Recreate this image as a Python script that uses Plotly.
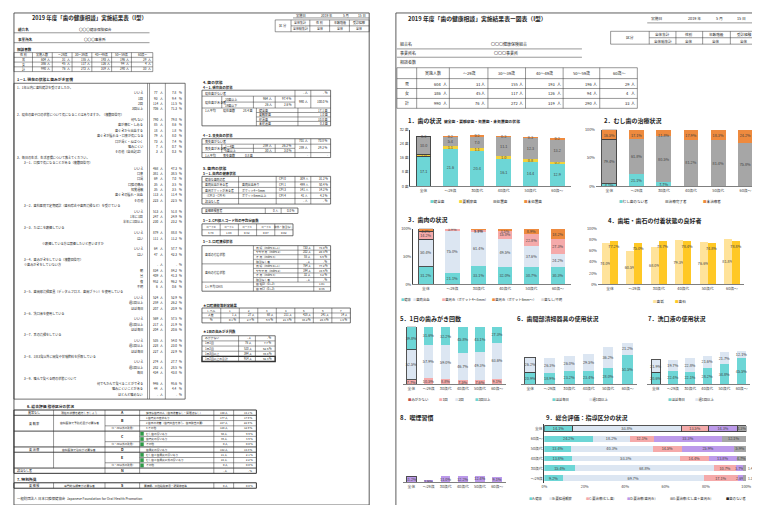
import plotly.graph_objects as go

W, H = 760, 505
JP = "Noto Sans CJK JP"
INK = "#262626"

# ---------------- data ----------------
CATS = ["全体", "～29歳", "30歳代", "40歳代", "50歳代", "60歳～"]

HEAD_COLS = ["実施人数", "～29歳", "30～39歳", "40～49歳", "50～59歳", "60歳～"]
SEX_ROWS = ["男", "女", "計"]
COUNT_M = [604, 31, 155, 193, 196, 29]
COUNT_F = [386, 45, 117, 126, 94, 4]
COUNT_T = [990, 76, 272, 319, 290, 33]

# 1. 歯の状況 (本数)
C1_SOUND = [17.1, 21.6, 20.4, 16.1, 14.4, 12.9]
C1_OBS = [1.0, 1.1, 1.1, 1.0, 0.8, 0.7]
C1_FILLED = [10.0, 5.4, 7.0, 11.1, 12.3, 13.2]
C1_DECAY = [0.3, 0.2, 0.2, 0.3, 0.3, 0.2]
# 2. むし歯の治療状況 (%)
C2_NONE = [4.1, 21.1, 7.7, 0.9, 0.3, 0.0]
C2_DONE = [79.4, 61.8, 80.5, 81.2, 81.4, 75.8]
C2_UNTREATED = [16.5, 17.1, 11.8, 17.9, 18.3, 24.2]
# 3. 歯肉の状況 (%)
C3_HEALTHY = [31.2, 21.1, 33.1, 32.0, 30.7, 30.3]
C3_BLEED = [50.4, 75.0, 61.4, 49.5, 37.6, 24.2]
C3_P45 = [14.2, 3.9, 4.4, 15.0, 22.8, 27.3]
C3_P6 = [4.2, 0.0, 1.1, 3.5, 8.9, 18.2]
# 4. 歯垢・歯石の付着状態の良好者 (%)
C4_PLAQUE = [74.0, 60.5, 68.0, 79.3, 76.6, 81.8]
C4_CALCULUS = [77.2, 75.0, 78.7, 78.4, 74.8, 78.8]
# 5. 1日の歯みがき回数 (%)
C5_NONE = [0.0, 0.0, 0.0, 0.0, 0.0, 0.0]
C5_ONCE = [7.7, 10.5, 8.8, 7.5, 7.6, 9.1]
C5_TWICE = [52.5, 57.9, 59.0, 46.7, 49.3, 63.6]
C5_THREE = [39.8, 31.6, 32.2, 45.8, 43.1, 27.3]
# 6. 歯間部清掃器具 (%)
C6_DAILY = [20.9, 18.9, 23.2, 23.4, 28.0, 51.5]
C6_WEEKLY = [26.2, 26.3, 26.0, 29.5, 36.2, 21.2]
# 7. 洗口液 (%)
C7_DAILY = [20.6, 22.4, 22.1, 28.2, 34.8, 45.5]
C7_WEEKLY = [21.9, 19.7, 22.8, 21.6, 21.7, 12.1]
# 8. 喫煙習慣 (%)
C8_SMOKE = [11.2, 3.9, 11.0, 12.2, 12.4, 9.1]
# 9. 総合評価 (%)
C9_CATS = ["全体", "60歳～", "50歳代", "40歳代", "30歳代", "～29歳"]
C9_A = [14.1, 24.2, 13.4, 13.8, 15.4, 9.2]
C9_B = [53.8, 18.2, 40.3, 53.3, 68.8, 69.7]
C9_C = [13.5, 12.1, 14.5, 14.4, 10.7, 17.1]
C9_D = [14.3, 33.3, 25.9, 13.8, 3.7, 2.6]
C9_E = [4.3, 12.1, 5.9, 4.7, 1.4, 1.3]
C9_N = [0.0, 0.0, 0.0, 0.0, 0.0, 0.0]

# left page questionnaire rows
LEFT_Q = [
    ("q", "1．1年以内に歯科健診を受けましたか。", None, None),
    ("i", "いいえ", "77", "7.8"),
    ("i", "1回", "93", "9.4"),
    ("i", "2回", "114", "11.5"),
    ("i", "3回以上", "706", "71.3"),
    ("q", "2．現在の歯や口の状態について気になることはありますか。（複数回答可）", None, None),
    ("i", "何もない", "790", "79.8"),
    ("i", "歯が痛む・しみる", "85", "8.6"),
    ("i", "歯ぐきから出血する", "18", "1.8"),
    ("i", "歯ぐきが腫れる・口臭が気になる", "79", "8.0"),
    ("i", "口が渇く・ねばつく", "73", "7.4"),
    ("i", "噛みにくい", "7", "0.7"),
    ("i", "その他（自由記述）", "3", "0.3"),
    ("q", "3．毎日の生活、生活習慣について教えてください。", None, None),
    ("s", "3－1．口腔で気になることがある（複数回答可）", None, None),
    ("i", "いいえ", "468", "47.3"),
    ("i", "口臭", "381", "38.5"),
    ("i", "口渇", "69", "7.0"),
    ("i", "口腔の痛み", "35", "3.5"),
    ("i", "知覚過敏", "35", "3.5"),
    ("i", "歯ぐきの腫れ・出血", "113", "11.4"),
    ("i", "その他", "223", "22.5"),
    ("s", "3－2．歯科医院で定期健診（歯石除去や歯面清掃など）を受けている", None, None),
    ("i", "いいえ", "513", "51.8"),
    ("i", "1年に1回", "247", "24.9"),
    ("i", "半年に1回以上", "230", "23.2"),
    ("s", "3－3．たばこを喫煙している", None, None),
    ("i", "いいえ", "879", "88.8"),
    ("i", "はい", "111", "11.2"),
    ("n", "※喫煙している方は禁煙したいと思いますか", None, None),
    ("i", "いいえ", "64", "57.7"),
    ("i", "はい", "47", "42.3"),
    ("s", "3－4．歯みがきをしている（複数回答可）", None, None),
    ("m", "※歯みがきをしていない方", "-", "-"),
    ("i", "朝", "834", "84.2"),
    ("i", "昼", "409", "41.3"),
    ("i", "夜", "952", "96.2"),
    ("i", "不明", "6", "0.6"),
    ("s", "3－5．歯間部清掃器具（デンタルフロス、歯間ブラシ）を使用している", None, None),
    ("i", "いいえ", "524", "52.9"),
    ("i", "週1回以上", "259", "26.2"),
    ("i", "ほぼ毎日", "207", "20.9"),
    ("s", "3－6．洗口液を使用している", None, None),
    ("i", "いいえ", "569", "57.5"),
    ("i", "週1回以上", "217", "21.9"),
    ("i", "ほぼ毎日", "204", "20.6"),
    ("s", "3－7．舌の清掃をしている", None, None),
    ("i", "いいえ", "535", "54.0"),
    ("i", "週1回以上", "228", "23.0"),
    ("i", "ほぼ毎日", "227", "22.9"),
    ("s", "3－8．1日3食以外に間食や甘味飲料を摂取している", None, None),
    ("i", "いいえ", "274", "27.7"),
    ("i", "週1回以上", "282", "28.5"),
    ("i", "毎日", "434", "43.8"),
    ("s", "3－9．噛んで食べる時の状態について", None, None),
    ("i", "何でもかんで食べることができる", "946", "95.6"),
    ("i", "噛みにくいことがある", "44", "4.4"),
    ("i", "ほとんど噛めない", "-", "-"),
]

GUIDE_ROWS = [
    ("A", "健康な歯肉の人（歯石沈着なし・問題点なし）", "140", "14.1"),
    ("B", "1 歯肉炎の症状あり", "177", "17.9"),
    ("", "2 歯石の沈着（歯肉出血を伴う、歯石除去の要）", "227", "22.9"),
    ("", "3 その他", "128", "12.9"),
    ("C", "むし歯の疑いあり", "98", "9.9"),
    ("", "歯肉炎の疑いあり", "36", "3.6"),
    ("", "その他", "0", "0.0"),
    ("D", "歯周炎の疑いあり", "142", "14.3"),
    ("E", "むし歯と歯周炎の疑いあり", "21", "2.1"),
    ("", "むし歯と歯周炎以外の疑いあり", "22", "2.2"),
    ("", "その他", "0", "0.0"),
    ("N", "", "-", "-"),
]

LEVELS = ["1", "2", "3", "4", "5", "6", "7"]
LEVEL_N = [1, 27, 68, 211, 428, 241, 14]
LEVEL_P = [0.1, 2.7, 6.9, 21.3, 43.2, 24.3, 1.4]

BRUSH_ROWS = [("みがかない", "-", "-"), ("1日1回", "76", "7.7"), ("1日2回", "520", "52.5"),
              ("1日3回以上", "394", "39.8"), ("1日2回以上の合計", "914", "92.3")]

# ---------------- colours ----------------
TURQ = "#6DD6D6"
YEL = "#F2D13C"
GRAY = "#A6A6A6"
ORANGE = "#EE8A3E"
LBLUE = "#DCE6F2"
PINK = "#F5AAAA"
PURPLE = "#BC9AEA"
DRED = "#C0504D"
LYEL = "#FFE39A"
GOLD = "#FFC825"
LGRAY = "#D9D9D9"
BLACK = "#262626"

fig = go.Figure()
ann, shp = [], []
layout = {}


def X(x):
    return x / W


def Y(y):
    return 1 - y / H


def T(x, y, s, size=4.0, anchor="left", bold=False, color=INK):
    ann.append(dict(xref="paper", yref="paper", x=X(x), y=Y(y),
                    text=f"<b>{s}</b>" if bold else s, showarrow=False,
                    xanchor=anchor, yanchor="middle", borderpad=0,
                    font=dict(family=JP, size=size, color=color)))


def L(x0, y0, x1, y1, w=0.5, c="#333333"):
    shp.append(dict(type="line", xref="paper", yref="paper", x0=X(x0), y0=Y(y0),
                    x1=X(x1), y1=Y(y1), line=dict(width=w, color=c)))


def R(x0, y0, x1, y1, w=0.5, c="#333333", fill="rgba(0,0,0,0)"):
    shp.append(dict(type="rect", xref="paper", yref="paper", x0=X(x0), y0=Y(y1),
                    x1=X(x1), y1=Y(y0), line=dict(width=w, color=c), fillcolor=fill))


# ================= LEFT PAGE =================
R(3, 2, 362, 499, w=0.8)
T(20, 7, "2019 年度「歯の健康相談」実施結果表（I型）", 5.5, bold=True)
T(287, 4.5, "実施日", 3.3)
T(312, 4.5, "2019 年", 3.3)
T(335, 4.5, "5 月", 3.3)
T(350, 4.5, "15 日", 3.3)
L(285, 7, 362, 7)
R(267, 9, 362, 21)
for xv in [283, 302, 322, 342]:
    L(xv, 9, xv, 21)
L(283, 15, 362, 15)
T(275, 15, "区 分", 3.3, "center")
for xc, a, b in zip([292.5, 312, 332, 352], ["全体集計", "性 別", "年齢階級", "受診経験"],
                    ["全体総集計", "全体", "全体", "全体"]):
    T(xc, 12, a, 3.0, "center")
    T(xc, 18, b, 3.0, "center")
T(6, 19, "組合名", 3.6, bold=True)
T(85, 19, "〇〇〇健康保険組合", 3.6, "center")
L(3, 22, 140, 22)
T(6, 29, "事業所名", 3.6, bold=True)
T(85, 29, "〇〇〇事業所", 3.6, "center")
L(3, 32, 140, 32)
T(5, 39, "相談者数", 3.6, bold=True)
lc = [3, 21.7, 41.7, 61.7, 81.7, 101.7, 121.7, 143.3]
lr = [42, 46.8, 51.6, 56.4, 61.2]
R(lc[0], lr[0], lc[-1], lr[-1])
for xv in lc[1:-1]:
    L(xv, lr[0], xv, lr[-1])
for yv in lr[1:-1]:
    L(lc[0], yv, lc[-1], yv)
T((lc[0] + lc[1]) / 2, (lr[0] + lr[1]) / 2, "性 別", 3.0, "center")
for j, h in enumerate(HEAD_COLS):
    T((lc[j + 1] + lc[j + 2]) / 2, (lr[0] + lr[1]) / 2, h, 3.0, "center")
for i, (sx, vals) in enumerate(zip(SEX_ROWS, [COUNT_M, COUNT_F, COUNT_T])):
    yc = (lr[i + 1] + lr[i + 2]) / 2
    T((lc[0] + lc[1]) / 2, yc, sx, 3.0, "center")
    for j, v in enumerate(vals):
        T(lc[j + 2] - 5, yc, str(v), 3.0, "right")
        T(lc[j + 2] - 1, yc, "人", 3.0, "right")

# questionnaire box
T(5, 69.5, "1－1. 現在の状態と歯みがき習慣", 3.8, bold=True)
R(3, 73, 176, 392, w=0.7)
L(138, 73, 138, 392)
L(140, 73, 140, 392)
L(156, 73, 156, 392)
step = (387 - 77) / (len(LEFT_Q) - 1)
for k, (kind, lab, n, p) in enumerate(LEFT_Q):
    yv = 77 + k * step
    if kind == "q":
        T(5, yv, lab, 3.1)
    elif kind == "s":
        T(12, yv, lab, 3.1)
    elif kind == "n":
        T(30, yv, lab, 3.1)
    elif kind == "m":
        T(12, yv, lab, 3.1)
    else:
        T(134, yv, lab, 3.1, "right")
    if n is not None:
        T(150, yv, n, 3.1, "right")
        T(154.5, yv, "人", 3.1, "right")
        T(169, yv, p, 3.1, "right")
        T(174, yv, "%", 3.1, "right")

# 4. 歯の状態
T(193, 72, "4. 歯の状態", 3.8, bold=True)
T(193, 77, "4－1. 現在歯の状態", 3.4, bold=True)
R(193, 80, 323, 116, w=0.7)
L(193, 86, 323, 86)
L(193, 98, 323, 98)
L(287, 80, 287, 98)
L(303, 80, 303, 98)
T(195, 83, "現在歯がない者", 3.0)
T(301, 83, "- 人", 3.0, "right")
T(321, 83, "- %", 3.0, "right")
T(195, 92, "現在歯がある者", 3.0)
L(213, 86, 213, 98)
L(213, 92, 287, 92)
L(245, 86, 245, 98)
L(267, 86, 267, 98)
for yv, a, n, p in [(89, "20歯以上", "964", "97.4"), (95, "19歯以下", "26", "2.6")]:
    T(215, yv, a, 3.0)
    T(265, yv, n + " 人", 3.0, "right")
    T(285, yv, p + " %", 3.0, "right")
T(301, 92, "990 人", 3.0, "right")
T(321, 92, "100.0 %", 3.0, "right")
T(195, 101, "1人平均", 3.0)
T(213, 101, "現在歯数", 3.0)
T(246, 101, "28.4 歯", 3.0, "right")
L(248, 98, 248, 116)
L(290, 98, 290, 116)
for k, (a, v) in enumerate([("健全歯", C1_SOUND[0]), ("要観察歯", C1_OBS[0]),
                            ("処置歯", C1_FILLED[0]), ("未処置歯", C1_DECAY[0])]):
    yv = 98 + 4.5 * k + 2.25
    if k:
        L(248, 98 + 4.5 * k, 323, 98 + 4.5 * k)
    T(250, yv, a, 3.0)
    T(321, yv, f"{v:.1f} 歯", 3.0, "right")

T(193, 126, "4－2. 喪失歯の状態", 3.4, bold=True)
R(193, 129, 323, 148, w=0.7)
L(193, 134.5, 323, 134.5)
L(193, 143, 323, 143)
L(287, 129, 287, 148)
L(303, 129, 303, 148)
T(195, 131.8, "喪失歯がない者", 3.0)
T(301, 131.8, "701 人", 3.0, "right")
T(321, 131.8, "70.8 %", 3.0, "right")
T(195, 138.7, "喪失歯がある者", 3.0)
L(213, 134.5, 213, 143)
L(213, 138.7, 287, 138.7)
L(245, 134.5, 245, 143)
L(267, 134.5, 267, 143)
for yv, a, n, p in [(136.6, "1～4歯", "259", "26.2"), (140.9, "5歯以上", "30", "3.0")]:
    T(215, yv, a, 3.0)
    T(265, yv, n + " 人", 3.0, "right")
    T(285, yv, p + " %", 3.0, "right")
T(301, 138.7, "289 人", 3.0, "right")
T(321, 138.7, "29.2 %", 3.0, "right")
T(195, 145.5, "1人平均", 3.0)
T(213, 145.5, "喪失歯数", 3.0)
T(246, 145.5, "0.8 歯", 3.0, "right")
T(301, 145.5, "-", 3.0, "right")
T(321, 145.5, "-", 3.0, "right")

# 5. 歯肉の状態
T(193, 159, "5. 歯肉の状態", 3.8, bold=True)
T(193, 164, "5－1. 歯肉の健康状態", 3.4, bold=True)
R(193, 167, 323, 195, w=0.7)
gum = [("健康な歯肉の者", "", "CPI 0", "309", "31.2"),
       ("歯肉出血がある者", "歯肉出血あり", "CPI 1", "499", "50.4"),
       ("歯周ポケットがある者", "ポケット4～5mm", "CPI 3", "141", "14.2"),
       ("（CPI 3・CPI 4）", "ポケット6mm以上", "CPI 4", "41", "4.2"),
       ("該当なし者", "", "", "-", "-")]
for k, (a, b, c, n, p) in enumerate(gum):
    yv = 167 + 5.6 * k + 2.8
    if k:
        L(193, 167 + 5.6 * k, 323, 167 + 5.6 * k)
    T(195, yv, a, 2.9)
    T(232, yv, b, 2.9)
    T(270, yv, c, 2.9)
    T(301, yv, n + " 人", 2.9, "right")
    T(321, yv, p + " %", 2.9, "right")
for xv in [230, 268, 287, 303]:
    L(xv, 167, xv, 195)
R(193, 199, 290, 204.5, w=0.7)
L(257, 199, 257, 204.5)
L(273, 199, 273, 204.5)
T(195, 201.8, "要精密検査者", 2.9)
T(271, 201.8, "0 人", 2.9, "right")
T(288, 201.8, "0.0 %", 2.9, "right")

T(193, 212, "5－2. CPI個人コード別の平均分画数", 3.4, bold=True)
R(193, 215, 285, 227, w=0.7)
L(193, 221, 285, 221)
cpi_h = ["コード0", "コード1", "コード3", "コード4", "除外・該当なし"]
cpi_v = ["3.78", "1.88", "0.32", "0.07", "0.02"]
for k in range(5):
    x0 = 193 + 18.4 * k
    if k:
        L(x0, 215, x0, 227)
    T(x0 + 9.2, 218, cpi_h[k], 2.7, "center")
    T(x0 + 9.2, 224, cpi_v[k], 2.8, "center")

T(193, 233, "5－3. 口腔清掃状態", 3.4, bold=True)
R(193, 237, 323, 283, w=0.7)
clean_items = [("良 好（index 0～1）", "733", "74.0"), ("やや不良（index 2）", "202", "20.4"),
               ("不 良（index 3）", "55", "5.6"), ("該当なし者", "-", "-"),
               ("良 好（index 0～1）", "764", "77.2"), ("やや不良（index 2）", "194", "19.6"),
               ("不 良（index 3）", "32", "3.2"), ("該当なし者", "-", "-")]
rh = 4.6
for k, (a, n, p) in enumerate(clean_items):
    yv = 237 + rh * k + rh / 2
    if k:
        L(245 if k != 4 else 193, 237 + rh * k, 323, 237 + rh * k)
    T(247, yv, a, 2.8)
    T(304, yv, n + " 人", 2.8, "right")
    T(321, yv, p + " %", 2.8, "right")
L(193, 237 + rh * 8, 323, 237 + rh * 8)
L(245, 237 + rh * 9, 323, 237 + rh * 9)
T(195, 237 + rh * 2, "歯垢の付着状態", 2.9)
T(195, 237 + rh * 6, "歯石の付着状態", 2.9)
T(195, 237 + rh * 9, "1人平均 OHIS", 2.9)
for k, (a, v) in enumerate([("歯 垢DI（0～3）", "1.01"), ("歯 石CI（0～3）", "0.35")]):
    yv = 237 + rh * (8 + k) + rh / 2
    T(247, yv, a, 2.8)
    T(314, yv, v, 2.8, "center")
L(245, 237, 245, 283)
L(290, 237, 290, 237 + rh * 8)
L(306, 237, 306, 237 + rh * 8)
L(306, 237 + rh * 8, 306, 283)

T(193, 297, "★口腔機能等判定結果", 3.4, bold=True)
R(193, 300, 343, 315, w=0.7)
L(193, 305, 343, 305)
L(193, 310, 343, 310)
L(212, 300, 212, 315)
T(202.5, 302.5, "レベル", 2.8, "center")
T(202.5, 307.5, "人数", 2.8, "center")
T(202.5, 312.5, "%", 2.8, "center")
for k, (lv, n, p) in enumerate(zip(LEVELS, LEVEL_N, LEVEL_P)):
    x0 = 212 + 18.71 * k
    if k:
        L(x0, 300, x0, 315)
    T(x0 + 9.35, 302.5, lv, 2.8, "center")
    T(x0 + 17, 307.5, f"{n} 人", 2.8, "right")
    T(x0 + 17, 312.5, f"{p:.1f} %", 2.8, "right")

T(193, 324, "★1日の歯みがき回数", 3.4, bold=True)
R(193, 328, 267, 354, w=0.7)
L(230, 328, 230, 354)
L(247, 328, 247, 354)
for k, (a, n, p) in enumerate(BRUSH_ROWS):
    yv = 328 + 5.2 * k + 2.6
    if k:
        L(193, 328 + 5.2 * k, 267, 328 + 5.2 * k)
    T(195, yv, a, 2.8)
    T(245, yv, n + " 人", 2.8, "right")
    T(265, yv, p + " %", 2.8, "right")
R(193, 348.8, 267, 354, w=1.3)

# 6. 総合評価 指導区分
T(15, 399, "6. 総合評価 指導区分の状況", 3.8, bold=True)
g0, gh = 403, 5.33
gy = [g0 + gh * k for k in range(13)]
R(3, gy[0], 248, gy[12], w=1.0)
for xv in [95, 130, 205, 225]:
    L(xv, gy[0], xv, gy[12])
L(43, gy[0], 43, gy[11])
for k in [1, 4, 7, 8, 11]:
    L(3, gy[k], 248, gy[k], w=0.9)
for k in [2, 3, 5, 6, 9, 10]:
    L(130, gy[k], 248, gy[k])
for k in [3, 6, 10]:
    L(95, gy[k], 130, gy[k])
for k in [4, 5, 6, 8, 9, 10]:
    R(130.8, gy[k] + 0.9, 134, gy[k + 1] - 0.9, w=0.3, c="#1E7B34", fill="#2E9E48")
T(23, (gy[0] + gy[1]) / 2, "異常なし", 3.0, "center")
T(23, (gy[1] + gy[4]) / 2, "要 観 察", 3.0, "center")
T(23, (gy[4] + gy[11]) / 2, "要 治 療", 3.0, "center")
T(14, (gy[11] + gy[12]) / 2, "該当なし者", 3.0, "center")
T(69, (gy[0] + gy[1]) / 2, "現在の状態を維持しましょう", 2.8, "center")
T(69, (gy[1] + gy[4]) / 2, "歯科医院で予防処置が必要な者", 2.8, "center")
T(69, (gy[4] + gy[11]) / 2, "歯科医院で治療が必要な者", 2.8, "center")
T(112.5, (gy[0] + gy[1]) / 2, "A", 3.6, "center", bold=True)
T(112.5, (gy[1] + gy[3]) / 2, "B", 3.6, "center", bold=True)
T(112.5, (gy[4] + gy[6]) / 2, "C", 3.6, "center", bold=True)
T(112.5, (gy[7] + gy[8]) / 2, "D", 3.6, "center", bold=True)
T(112.5, (gy[8] + gy[10]) / 2, "E", 3.6, "center", bold=True)
T(112.5, (gy[11] + gy[12]) / 2, "N", 3.6, "center", bold=True)
for k in [3, 6, 10]:
    T(112.5, (gy[k] + gy[k + 1]) / 2, "（C・ZR以外の所見）", 2.5, "center")
for k, (_, desc, n, p) in enumerate(GUIDE_ROWS):
    yv = (gy[k] + gy[k + 1]) / 2
    if desc:
        T(135.5, yv, desc, 2.7)
    T(220, yv, n + " 人", 2.7, "right")
    T(246, yv, p + " %", 2.7, "right")

T(5, 473, "7. 特別所見", 3.8, bold=True)
R(3, 476.5, 248, 482, w=1.0)
for xv in [43, 95, 130, 205, 225]:
    L(xv, 476.5, xv, 482)
T(23, 479.3, "要 精 検", 3.0, "center")
T(69, 479.3, "専門的な検査が必要な者", 2.8, "center")
T(112.5, 479.3, "S", 3.6, "center", bold=True)
T(133, 479.3, "要精検、口腔粘膜疾患・顎関節症等", 2.7)
T(220, 479.3, "0 人", 2.7, "right")
T(246, 479.3, "0.0 %", 2.7, "right")
T(5, 492, "一般財団法人 日本口腔保健協会  Japanese Foundation for Oral Health Promotion", 3.4)

# ================= RIGHT PAGE =================
R(389, 2, 757, 500, w=0.8)
T(400, 7.5, "2019 年度「歯の健康相談」実施結果表ー図表（I型）", 5.8, bold=True)
T(646, 7.5, "実施日", 3.8)
T(683, 7.5, "2019 年", 3.8)
T(711, 7.5, "5 月", 3.8)
T(733, 7.5, "15 日", 3.8)
L(643, 12, 755, 12)
R(606, 20.5, 755, 33.5)
for xv in [645, 672, 699, 727]:
    L(xv, 20.5, xv, 33.5)
L(645, 27, 755, 27)
T(625.5, 27, "区分", 3.8, "center")
for xc, a, b in zip([658.5, 685.5, 713, 741], ["全体集計", "性別", "年齢階級", "受診経験"],
                    ["全体総集計", "全体", "全体", "全体"]):
    T(xc, 23.8, a, 3.6, "center")
    T(xc, 30.3, b, 3.6, "center")
T(392, 33.5, "組合名", 4.0)
T(503, 33.5, "〇〇〇健康保険組合", 4.0, "center")
L(390, 38.3, 577, 38.3)
T(392, 42.5, "事業所名", 4.0)
T(500, 42.5, "〇〇〇事業所", 4.0, "center")
L(390, 46.7, 577, 46.7)
T(392, 51.5, "相談者数", 4.0)
rc = [390, 410, 443, 482, 520, 558, 595, 633]
rr = [57.3, 68.3, 78.3, 88.3, 98.3]
R(rc[0], rr[0], rc[-1], rr[-1])
for xv in rc[1:-1]:
    L(xv, rr[0], xv, rr[-1])
for yv in rr[1:-1]:
    L(rc[0], yv, rc[-1], yv)
for j, h in enumerate(HEAD_COLS):
    T((rc[j + 1] + rc[j + 2]) / 2, (rr[0] + rr[1]) / 2, h, 4.0, "center")
for i, (sx, vals) in enumerate(zip(SEX_ROWS, [COUNT_M, COUNT_F, COUNT_T])):
    yc = (rr[i + 1] + rr[i + 2]) / 2
    T((rc[0] + rc[1]) / 2, yc, sx, 4.0, "center")
    for j, v in enumerate(vals):
        T(rc[j + 2] - 7, yc, str(v), 4.0, "right")
        T(rc[j + 2] - 1.5, yc, "人", 4.0, "right")

# ---- charts ----
TICKF = dict(family=JP, size=3.8, color="#404040")


def cat_axes(n, x0, x1, y0, y1, yrange, tv=None, tt=None, yline=False):
    sx = "" if n == 1 else str(n)
    layout["xaxis" + sx] = dict(domain=[X(x0), X(x1)], anchor="y" + sx, type="category",
                                categoryorder="array", categoryarray=CATS, range=[-0.5, 5.5],
                                showline=True, linecolor="#7F7F7F", linewidth=0.8, ticks="",
                                showgrid=False, zeroline=False, tickfont=TICKF, fixedrange=True)
    layout["yaxis" + sx] = dict(domain=[Y(y1), Y(y0)], anchor="x" + sx, range=yrange,
                                showgrid=False, zeroline=False, showline=yline,
                                linecolor="#404040", linewidth=0.9, ticks="",
                                showticklabels=tv is not None, tickvals=tv, ticktext=tt,
                                tickfont=TICKF, fixedrange=True)


def vbar(n, ys, color, fmt="{:.1f}%", tc="#404040", anchor="middle", width=0.55,
         outline=True, xa=None, offset=None):
    sx = "" if n == 1 else str(n)
    txt = [fmt.format(v) if v > 0 else "" for v in ys]
    fig.add_trace(go.Bar(x=CATS, y=ys, xaxis=xa or ("x" + sx), yaxis="y" + sx, width=width,
                         offset=offset,
                         marker=dict(color=color, line=dict(color="#404040",
                                                            width=[0.9 if outline else 0] + [0] * 5)),
                         text=txt, textposition="inside", insidetextanchor=anchor, textangle=0,
                         constraintext="none", textfont=dict(family=JP, size=3.8, color=tc),
                         showlegend=False, hoverinfo="skip"))


def legend(y, items, size=3.6):
    for x, col, lab in items:
        T(x, y, f'<span style="color:{col}">■</span>{lab}', size)


# 1
T(400, 111, "1．歯の状況", 6.0, bold=True)
T(437, 111.5, "健全歯・要観察歯・処置歯・未処置歯の状態", 3.8, bold=True)
cat_axes(1, 403.5, 565.5, 120, 177, [0, 32], [0, 8, 16, 24, 32],
         ["0 歯", "8 歯", "16 歯", "24 歯", "32 歯"], yline=True)
vbar(1, C1_SOUND, TURQ, "{:.1f}")
vbar(1, C1_OBS, YEL, "{:.1f}")
vbar(1, C1_FILLED, GRAY, "{:.1f}")
vbar(1, C1_DECAY, ORANGE, "{:.1f}")
legend(192, [(422, TURQ, "健全歯"), (452, YEL, "要観察歯"), (486, GRAY, "処置歯"), (517, ORANGE, "未処置歯")])

# 2
T(598, 111, "2．むし歯の治療状況", 6.0, bold=True)
cat_axes(2, 591, 756, 120, 177, [0, 100], [0, 50, 100], ["0%", "50%", "100%"])
vbar(2, C2_NONE, TURQ)
vbar(2, C2_DONE, GRAY)
vbar(2, C2_UNTREATED, ORANGE, anchor="end")
legend(192, [(613, TURQ, "むし歯のない者"), (660, GRAY, "治療完了者"), (698, ORANGE, "未治療者")])

# 3
T(400, 211, "3．歯肉の状況", 6.0, bold=True)
cat_axes(3, 406, 566, 220, 276, [0, 100], [0, 50, 100], ["0%", "50%", "100%"], yline=True)
vbar(3, C3_HEALTHY, TURQ)
vbar(3, C3_BLEED, LBLUE)
vbar(3, C3_P45, PINK)
vbar(3, C3_P6, ORANGE, anchor="end")
legend(291, [(393, TURQ, "健康"), (405, LBLUE, "歯肉出血"), (435, PINK, "歯周炎（ポケット4～5mm）"),
             (485, ORANGE, "歯周炎（ポケット6mm～）"), (535, LGRAY, "歯なし/不明")], 3.3)

# 4
T(602, 212, "4．歯垢・歯石の付着状態の良好者", 6.0, bold=True)
cat_axes(4, 593, 741, 220, 276, [0, 100], [0, 20, 40, 60, 80, 100],
         ["0%", "20%", "40%", "60%", "80%", "100%"])
layout["xaxis10"] = dict(domain=[X(593), X(741)], anchor="y4", overlaying="x4", type="category",
                         categoryorder="array", categoryarray=CATS, range=[-0.5, 5.5],
                         visible=False, fixedrange=True)
vbar(4, C4_PLAQUE, LYEL, width=0.33, offset=-0.33, outline=False)
vbar(4, C4_CALCULUS, GOLD, width=0.33, offset=0.0, outline=False, xa="x10", anchor="end")
legend(293, [(648, LYEL, "歯垢"), (670, GOLD, "歯石")])

# 5
T(392, 311, "5．1日の歯みがき回数", 6.0, bold=True)
cat_axes(5, 396, 500, 319, 377, [0, 100])
vbar(5, C5_NONE, DRED)
vbar(5, C5_ONCE, PINK)
vbar(5, C5_TWICE, LBLUE)
vbar(5, C5_THREE, TURQ)
legend(392, [(400, DRED, "みがかない"), (432, PINK, "1回"), (448, LBLUE, "2回"), (468, TURQ, "3回以上")], 3.4)

# 6
T(510, 311, "6．歯間部清掃器具の使用状況", 6.0, bold=True)
cat_axes(6, 515, 633, 319, 377, [0, 100])
vbar(6, C6_DAILY, TURQ)
vbar(6, C6_WEEKLY, LBLUE)
legend(392, [(546, TURQ, "ほぼ毎日"), (583, LBLUE, "週1回以上")], 3.4)

# 7
T(643, 311, "7．洗口液の使用状況", 6.0, bold=True)
cat_axes(7, 643, 747, 319, 377, [0, 100])
vbar(7, C7_DAILY, TURQ)
vbar(7, C7_WEEKLY, LBLUE)
legend(392, [(663, TURQ, "ほぼ毎日"), (690, LBLUE, "週1回以上")], 3.4)

# 8
T(392, 411, "8．喫煙習慣", 6.0, bold=True)
cat_axes(8, 396, 500, 422, 476, [0, 100])
vbar(8, C8_SMOKE, PURPLE)

# 9
T(540, 411, "9．総合評価：指導区分の状況", 6.0, bold=True)
layout["xaxis9"] = dict(domain=[X(539), X(743)], anchor="y9", range=[0, 100],
                        tickvals=[0, 20, 40, 60, 80, 100],
                        ticktext=["0%", "20%", "40%", "60%", "80%", "100%"],
                        showgrid=False, zeroline=False, showline=False, ticks="",
                        tickfont=TICKF, fixedrange=True)
layout["yaxis9"] = dict(domain=[Y(477), Y(417)], anchor="x9", type="category",
                        categoryorder="array", categoryarray=C9_CATS, range=[5.5, -0.5],
                        showline=True, linecolor="#404040", linewidth=0.9, ticks="",
                        showgrid=False, tickfont=TICKF, fixedrange=True)
for vals, col, tc, minlab in [(C9_A, TURQ, "#404040", 0), (C9_B, LBLUE, "#404040", 0),
                              (C9_C, PINK, "#404040", 0), (C9_D, PURPLE, "#404040", 0),
                              (C9_E, GRAY, "#404040", 2.0), (C9_N, BLACK, "white", 0)]:
    fig.add_trace(go.Bar(x=vals, y=C9_CATS, orientation="h", xaxis="x9", yaxis="y9", width=0.6,
                         marker=dict(color=col, line=dict(color="#404040", width=[0.9] + [0] * 5)),
                         text=[f"{v:.1f}%" if v > max(minlab, 0) else "" for v in vals],
                         textposition="inside", insidetextanchor="middle", textangle=0,
                         constraintext="none", textfont=dict(family=JP, size=3.8, color=tc),
                         showlegend=False, hoverinfo="skip"))
# small E shares written just past the 100% end of their bar
for cat, v in zip(C9_CATS, C9_E):
    if 0 < v < 2.0:
        ann.append(dict(xref="x9", yref="y9", x=100, y=cat, text=f"{v:.1f}%", showarrow=False,
                        xanchor="left", xshift=1, yanchor="middle", borderpad=0,
                        font=dict(family=JP, size=3.3, color="#404040")))
legend(492, [(522, TURQ, "A:健康"), (543, LBLUE, "B:要経過観察"), (580, PINK, "C:要治療(むし歯)"),
             (622, PURPLE, "D:要治療(歯周炎)"), (665, GRAY, "E:要治療(むし歯＋歯周炎)"),
             (722, BLACK, "歯のない者")], 3.3)

fig.update_layout(width=W, height=H, margin=dict(l=0, r=0, t=0, b=0),
                  paper_bgcolor="white", plot_bgcolor="white", barmode="stack",
                  showlegend=False, font=dict(family=JP), annotations=ann, shapes=shp, **layout)
fig.write_html("out.html")
